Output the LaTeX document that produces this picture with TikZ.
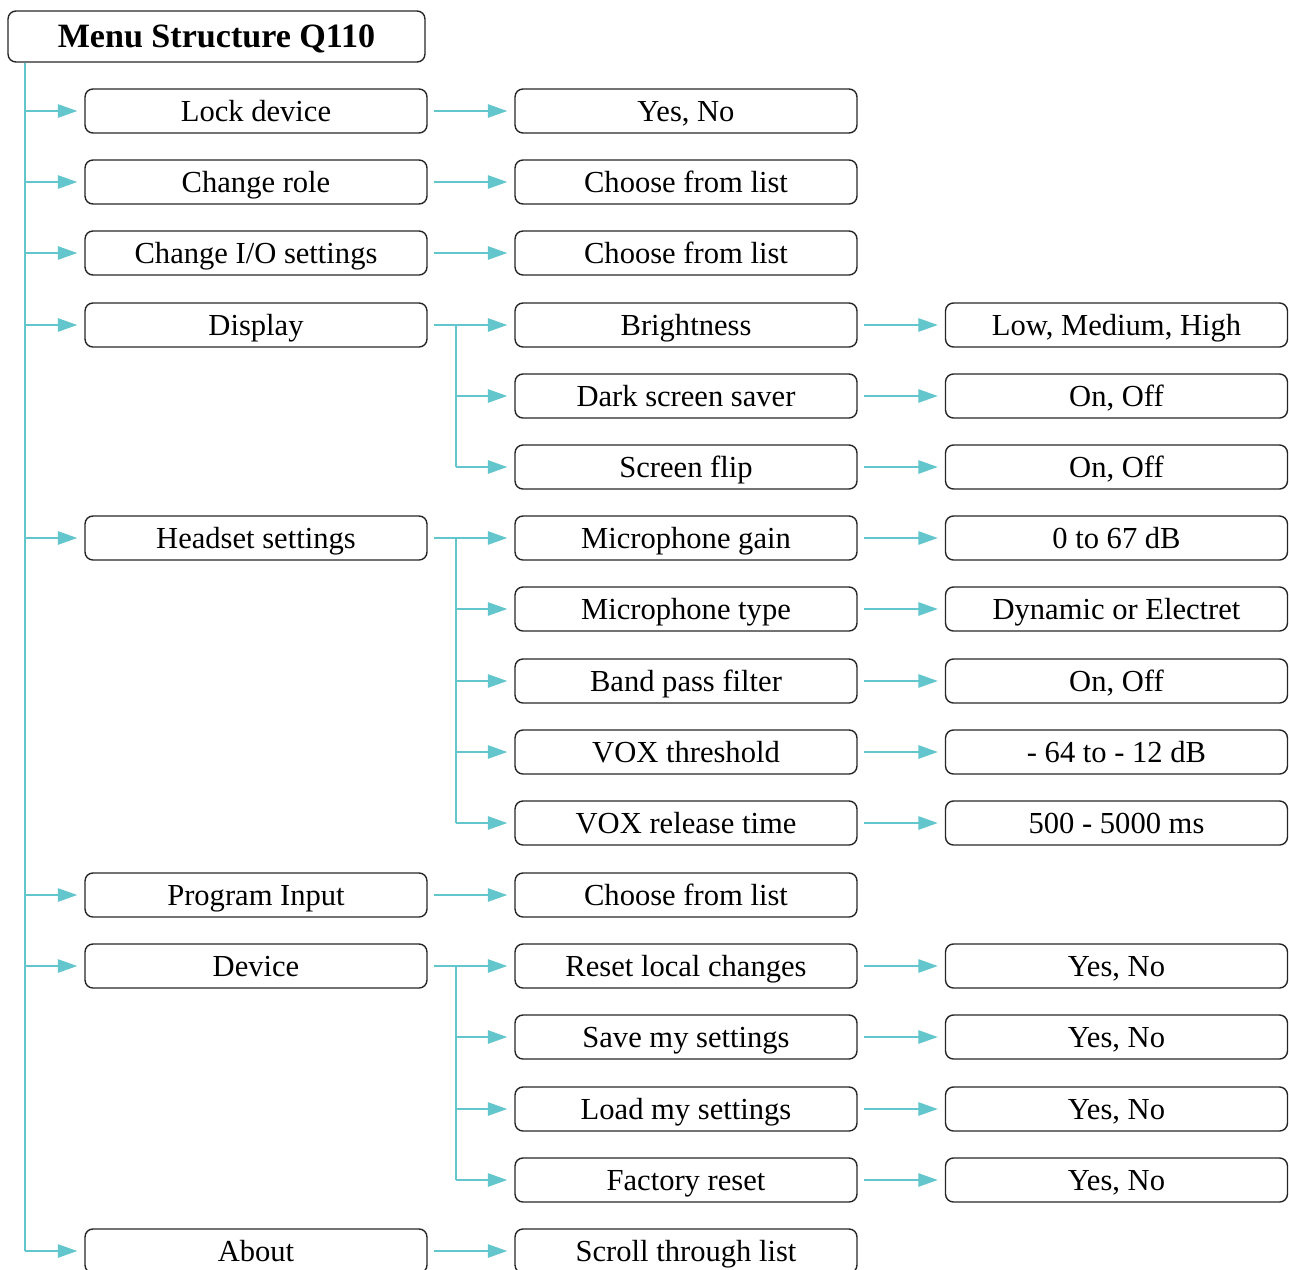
\documentclass[tikz,border=0pt]{standalone}
\usepackage{fontspec}
\setmainfont{Liberation Serif}
\usetikzlibrary{arrows.meta}
\definecolor{menuteal}{RGB}{98,198,204}
\begin{document}
\begin{tikzpicture}[x=0.02cm,y=-0.02cm,
    box/.style={draw=black!85,line width=0.8pt,rounded corners=4.5pt,
      minimum width=6.84cm,minimum height=0.88cm,inner sep=0pt,
      text height=12.4pt,text depth=0pt,
      font=\fontsize{17.4}{20}\selectfont},
    line/.style={draw=menuteal,line width=1.1pt},
    arr/.style={line,-{Triangle[length=11pt,width=7.5pt]},shorten >=4pt,shorten <=3.4pt}]
  \useasboundingbox (0,0) rectangle (1289,1269);
  \node[box,minimum width=8.34cm,minimum height=1.02cm,text height=13pt,
    font=\fontsize{19.4}{22}\selectfont\bfseries] (title) at (216.5,36.5) {Menu Structure Q110};
  % first column
  \node[box] (lock) at (256,111) {Lock device};
  \node[box] (role) at (256,182) {Change role};
  \node[box] (io) at (256,253) {Change I/O settings};
  \node[box] (display) at (256,325) {Display};
  \node[box] (headset) at (256,538) {Headset settings};
  \node[box] (program) at (256,895) {Program Input};
  \node[box] (device) at (256,966) {Device};
  \node[box] (about) at (256,1251) {About};
  % second column
  \node[box] (lockval) at (686,111) {Yes, No};
  \node[box] (roleval) at (686,182) {Choose from list};
  \node[box] (ioval) at (686,253) {Choose from list};
  \node[box] (bright) at (686,325) {Brightness};
  \node[box] (dark) at (686,396) {Dark screen saver};
  \node[box] (flip) at (686,467) {Screen flip};
  \node[box] (micgain) at (686,538) {Microphone gain};
  \node[box] (mictype) at (686,609) {Microphone type};
  \node[box] (band) at (686,681) {Band pass filter};
  \node[box] (voxthr) at (686,752) {VOX threshold};
  \node[box] (voxrel) at (686,823) {VOX release time};
  \node[box] (programval) at (686,895) {Choose from list};
  \node[box] (reset) at (686,966) {Reset local changes};
  \node[box] (save) at (686,1037) {Save my settings};
  \node[box] (load) at (686,1109) {Load my settings};
  \node[box] (factory) at (686,1180) {Factory reset};
  \node[box] (aboutval) at (686,1251) {Scroll through list};
  % third column
  \node[box] (brightval) at (1116.5,325) {Low, Medium, High};
  \node[box] (darkval) at (1116.5,396) {On, Off};
  \node[box] (flipval) at (1116.5,467) {On, Off};
  \node[box] (micgainval) at (1116.5,538) {0 to 67 dB};
  \node[box] (mictypeval) at (1116.5,609) {Dynamic or Electret};
  \node[box] (bandval) at (1116.5,681) {On, Off};
  \node[box] (voxthrval) at (1116.5,752) {- 64 to - 12 dB};
  \node[box] (voxrelval) at (1116.5,823) {500 - 5000 ms};
  \node[box] (resetval) at (1116.5,966) {Yes, No};
  \node[box] (saveval) at (1116.5,1037) {Yes, No};
  \node[box] (loadval) at (1116.5,1109) {Yes, No};
  \node[box] (factoryval) at (1116.5,1180) {Yes, No};
  \coordinate (t) at (25,0);
  \coordinate (s) at (456,0);
  % main trunk
  \draw[line] (title.south -| t) -- (t |- about);
  \draw[arr,shorten <=0pt] (t |- lock) -- (lock);
  \draw[arr,shorten <=0pt] (t |- role) -- (role);
  \draw[arr,shorten <=0pt] (t |- io) -- (io);
  \draw[arr,shorten <=0pt] (t |- display) -- (display);
  \draw[arr,shorten <=0pt] (t |- headset) -- (headset);
  \draw[arr,shorten <=0pt] (t |- program) -- (program);
  \draw[arr,shorten <=0pt] (t |- device) -- (device);
  \draw[arr,shorten <=0pt] (t |- about) -- (about);
  % first to second column
  \draw[arr] (lock) -- (lockval);
  \draw[arr] (role) -- (roleval);
  \draw[arr] (io) -- (ioval);
  \draw[arr] (display) -- (bright);
  \draw[arr] (headset) -- (micgain);
  \draw[arr] (program) -- (programval);
  \draw[arr] (device) -- (reset);
  \draw[arr] (about) -- (aboutval);
  % sub trunks
  \draw[line] (s |- display) -- (s |- flip);
  \draw[arr,shorten <=0pt] (s |- dark) -- (dark);
  \draw[arr,shorten <=0pt] (s |- flip) -- (flip);
  \draw[line] (s |- headset) -- (s |- voxrel);
  \draw[arr,shorten <=0pt] (s |- mictype) -- (mictype);
  \draw[arr,shorten <=0pt] (s |- band) -- (band);
  \draw[arr,shorten <=0pt] (s |- voxthr) -- (voxthr);
  \draw[arr,shorten <=0pt] (s |- voxrel) -- (voxrel);
  \draw[line] (s |- device) -- (s |- factory);
  \draw[arr,shorten <=0pt] (s |- save) -- (save);
  \draw[arr,shorten <=0pt] (s |- load) -- (load);
  \draw[arr,shorten <=0pt] (s |- factory) -- (factory);
  % second to third column
  \draw[arr] (bright) -- (brightval);
  \draw[arr] (dark) -- (darkval);
  \draw[arr] (flip) -- (flipval);
  \draw[arr] (micgain) -- (micgainval);
  \draw[arr] (mictype) -- (mictypeval);
  \draw[arr] (band) -- (bandval);
  \draw[arr] (voxthr) -- (voxthrval);
  \draw[arr] (voxrel) -- (voxrelval);
  \draw[arr] (reset) -- (resetval);
  \draw[arr] (save) -- (saveval);
  \draw[arr] (load) -- (loadval);
  \draw[arr] (factory) -- (factoryval);
\end{tikzpicture}
\end{document}
